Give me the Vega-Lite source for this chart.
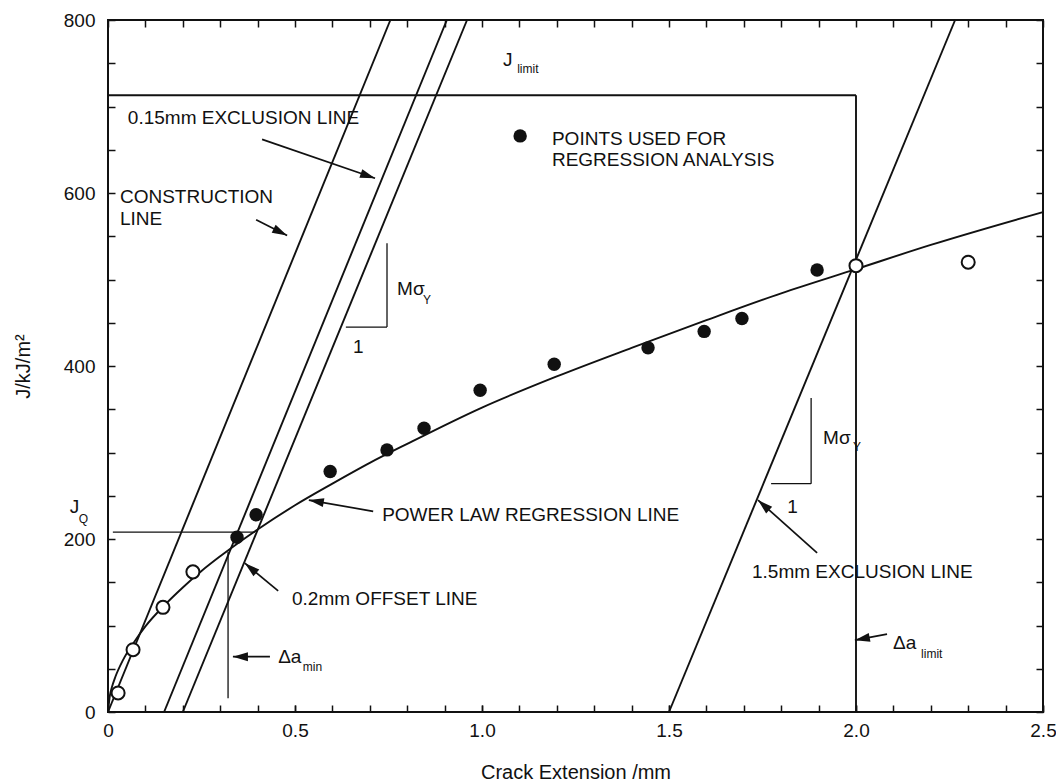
{
  "$schema": "https://vega.github.io/schema/vega-lite/v6.json",
  "width": 935,
  "height": 692,
  "autosize": "none",
  "padding": {"left": 108, "top": 20, "right": 13, "bottom": 71},
  "background": "white",
  "config": {
    "view": {"stroke": "#111", "strokeWidth": 2},
    "axis": {
      "domain": false, "grid": false, "tickColor": "#111", "tickWidth": 1.5, "tickSize": -7,
      "labelFont": "Liberation Sans", "labelFontSize": 19, "labelColor": "#111",
      "titleFont": "Liberation Sans", "titleFontSize": 20, "titleFontWeight": "normal", "titleColor": "#111",
      "labelOverlap": false, "labelFlush": false, "labelBound": false
    },
    "text": {"font": "Liberation Sans", "color": "#111"}
  },
  "datasets": {
    "curve": [
      {"x": 0, "y": 0}, {"x": 0.005, "y": 19}, {"x": 0.01, "y": 28}, {"x": 0.02, "y": 41},
      {"x": 0.04, "y": 60}, {"x": 0.07, "y": 81}, {"x": 0.1, "y": 99}, {"x": 0.15, "y": 123},
      {"x": 0.2, "y": 144}, {"x": 0.25, "y": 163}, {"x": 0.3, "y": 180}, {"x": 0.35, "y": 196},
      {"x": 0.4, "y": 211}, {"x": 0.5, "y": 239}, {"x": 0.6, "y": 264}, {"x": 0.7, "y": 288},
      {"x": 0.8, "y": 310}, {"x": 1.0, "y": 352}, {"x": 1.2, "y": 388}, {"x": 1.4, "y": 421},
      {"x": 1.6, "y": 453}, {"x": 1.8, "y": 484}, {"x": 2.0, "y": 512}, {"x": 2.2, "y": 540},
      {"x": 2.5, "y": 578}
    ],
    "open": [
      {"x": 0.027, "y": 22}, {"x": 0.067, "y": 72}, {"x": 0.147, "y": 121}, {"x": 0.227, "y": 162},
      {"x": 2.0, "y": 516}, {"x": 2.3, "y": 520}
    ],
    "filled": [
      {"x": 0.345, "y": 202}, {"x": 0.396, "y": 228}, {"x": 0.594, "y": 278}, {"x": 0.746, "y": 303},
      {"x": 0.845, "y": 328}, {"x": 0.995, "y": 372}, {"x": 1.193, "y": 402}, {"x": 1.444, "y": 421},
      {"x": 1.594, "y": 440}, {"x": 1.695, "y": 455}, {"x": 1.896, "y": 511}
    ],
    "legenddot": [{"x": 1.102, "y": 666}],
    "thick": [
      {"x": 0, "y": 0, "x2": 0.755, "y2": 800},
      {"x": 0.15, "y": 0, "x2": 0.906, "y2": 800},
      {"x": 0.2, "y": 0, "x2": 0.96, "y2": 800},
      {"x": 1.5, "y": 0, "x2": 2.265, "y2": 800},
      {"x": 0, "y": 713, "x2": 2.0, "y2": 713},
      {"x": 2.0, "y": 0, "x2": 2.0, "y2": 713}
    ],
    "thin": [
      {"x": 0.013, "y": 208, "x2": 0.393, "y2": 208},
      {"x": 0.321, "y": 16, "x2": 0.321, "y2": 185},
      {"x": 0.746, "y": 445, "x2": 0.746, "y2": 542},
      {"x": 0.636, "y": 445, "x2": 0.746, "y2": 445},
      {"x": 1.88, "y": 264, "x2": 1.88, "y2": 363},
      {"x": 1.773, "y": 264, "x2": 1.88, "y2": 264}
    ],
    "arrows": [
      {"n": "a1", "x": 0.714, "y": 617, "x2": 0.412, "y2": 662},
      {"n": "a2", "x": 0.479, "y": 551, "x2": 0.396, "y2": 569},
      {"n": "a3", "x": 0.537, "y": 245, "x2": 0.709, "y2": 232},
      {"n": "a4", "x": 0.366, "y": 172, "x2": 0.455, "y2": 140},
      {"n": "a5", "x": 0.334, "y": 64, "x2": 0.433, "y2": 64},
      {"n": "a6", "x": 1.738, "y": 245, "x2": 1.896, "y2": 184},
      {"n": "a7", "x": 1.997, "y": 83, "x2": 2.083, "y2": 90}
    ],
    "labels": [
      {"t": "J", "x": 1.056, "y": 754},
      {"t": "0.15mm EXCLUSION LINE", "x": 0.053, "y": 687},
      {"t": "CONSTRUCTION", "x": 0.032, "y": 595},
      {"t": "LINE", "x": 0.032, "y": 570},
      {"t": "POINTS USED FOR", "x": 1.187, "y": 663},
      {"t": "REGRESSION ANALYSIS", "x": 1.187, "y": 638},
      {"t": "Mσ", "x": 0.773, "y": 489},
      {"t": "1", "x": 0.655, "y": 422},
      {"t": "J", "x": -0.102, "y": 237},
      {"t": "POWER LAW REGRESSION LINE", "x": 0.733, "y": 228},
      {"t": "0.2mm OFFSET LINE", "x": 0.492, "y": 131},
      {"t": "Δa", "x": 0.455, "y": 64},
      {"t": "1.5mm EXCLUSION LINE", "x": 1.722, "y": 162},
      {"t": "Δa", "x": 2.099, "y": 80},
      {"t": "Mσ", "x": 1.912, "y": 317},
      {"t": "1", "x": 1.816, "y": 237}
    ],
    "subs": [
      {"t": "limit", "x": 1.094, "y": 743},
      {"t": "Y", "x": 0.842, "y": 476},
      {"t": "Q", "x": -0.078, "y": 223},
      {"t": "min", "x": 0.521, "y": 52},
      {"t": "limit", "x": 2.174, "y": 67},
      {"t": "Y", "x": 1.992, "y": 306}
    ]
  },
  "layer": [
    {
      "layer": [
        {
          "data": {"name": "thick"},
          "mark": {"type": "rule", "stroke": "#111", "strokeWidth": 1.9},
          "encoding": {
            "x": {"field": "x", "type": "quantitative",
              "scale": {"domain": [0, 2.5], "nice": false, "zero": false},
              "axis": {
                "values": [0, 0.5, 1, 1.5, 2, 2.5],
                "labelExpr": "datum.value == 0 ? '0' : format(datum.value, '.1f')",
                "labelOverlap": false, "labelFlush": false, "labelBound": false,
                "labelPadding": 16, "title": "Crack Extension /mm", "titlePadding": 22
              }},
            "y": {"field": "y", "type": "quantitative",
              "scale": {"domain": [0, 800], "nice": false},
              "axis": {
                "values": [0,50,100,150,200,250,300,350,400,450,500,550,600,650,700,750,800],
                "labelExpr": "datum.value % 200 == 0 ? '' + datum.value : ''",
                "labelOverlap": false, "labelFlush": false, "labelBound": false,
                "labelPadding": 20, "title": "J/kJ/m²", "titlePadding": 30
              }},
            "x2": {"field": "x2"},
            "y2": {"field": "y2"}
          }
        },
        {
          "data": {"name": "thin"},
          "mark": {"type": "rule", "stroke": "#111", "strokeWidth": 1.3},
          "encoding": {
            "x": {"field": "x", "type": "quantitative"},
            "y": {"field": "y", "type": "quantitative"},
            "x2": {"field": "x2"},
            "y2": {"field": "y2"}
          }
        },
        {
          "data": {"name": "curve"},
          "mark": {"type": "line", "stroke": "#111", "strokeWidth": 1.9, "interpolate": "monotone"},
          "encoding": {
            "x": {"field": "x", "type": "quantitative"},
            "y": {"field": "y", "type": "quantitative"}
          }
        },
        {
          "data": {"name": "arrows"},
          "mark": {"type": "rule", "stroke": "#111", "strokeWidth": 1.7},
          "encoding": {
            "x": {"field": "x", "type": "quantitative"},
            "y": {"field": "y", "type": "quantitative"},
            "x2": {"field": "x2"},
            "y2": {"field": "y2"}
          }
        },
        {"data": {"name": "arrows"}, "transform": [{"filter": "datum.n == 'a1'"}],
          "mark": {"type": "point", "shape": "M0,0 L0.45,1.5 L-0.45,1.5 Z", "size": 400, "filled": true, "color": "#111", "opacity": 1, "angle": 109},
          "encoding": {"x": {"field": "x", "type": "quantitative"}, "y": {"field": "y", "type": "quantitative"}}},
        {"data": {"name": "arrows"}, "transform": [{"filter": "datum.n == 'a2'"}],
          "mark": {"type": "point", "shape": "M0,0 L0.45,1.5 L-0.45,1.5 Z", "size": 400, "filled": true, "color": "#111", "opacity": 1, "angle": 116},
          "encoding": {"x": {"field": "x", "type": "quantitative"}, "y": {"field": "y", "type": "quantitative"}}},
        {"data": {"name": "arrows"}, "transform": [{"filter": "datum.n == 'a3'"}],
          "mark": {"type": "point", "shape": "M0,0 L0.45,1.5 L-0.45,1.5 Z", "size": 400, "filled": true, "color": "#111", "opacity": 1, "angle": 280},
          "encoding": {"x": {"field": "x", "type": "quantitative"}, "y": {"field": "y", "type": "quantitative"}}},
        {"data": {"name": "arrows"}, "transform": [{"filter": "datum.n == 'a4'"}],
          "mark": {"type": "point", "shape": "M0,0 L0.45,1.5 L-0.45,1.5 Z", "size": 400, "filled": true, "color": "#111", "opacity": 1, "angle": 310},
          "encoding": {"x": {"field": "x", "type": "quantitative"}, "y": {"field": "y", "type": "quantitative"}}},
        {"data": {"name": "arrows"}, "transform": [{"filter": "datum.n == 'a5'"}],
          "mark": {"type": "point", "shape": "M0,0 L0.45,1.5 L-0.45,1.5 Z", "size": 400, "filled": true, "color": "#111", "opacity": 1, "angle": 270},
          "encoding": {"x": {"field": "x", "type": "quantitative"}, "y": {"field": "y", "type": "quantitative"}}},
        {"data": {"name": "arrows"}, "transform": [{"filter": "datum.n == 'a6'"}],
          "mark": {"type": "point", "shape": "M0,0 L0.45,1.5 L-0.45,1.5 Z", "size": 400, "filled": true, "color": "#111", "opacity": 1, "angle": 312},
          "encoding": {"x": {"field": "x", "type": "quantitative"}, "y": {"field": "y", "type": "quantitative"}}},
        {"data": {"name": "arrows"}, "transform": [{"filter": "datum.n == 'a7'"}],
          "mark": {"type": "point", "shape": "M0,0 L0.45,1.5 L-0.45,1.5 Z", "size": 400, "filled": true, "color": "#111", "opacity": 1, "angle": 259},
          "encoding": {"x": {"field": "x", "type": "quantitative"}, "y": {"field": "y", "type": "quantitative"}}},
        {
          "data": {"name": "open"},
          "mark": {"type": "point", "shape": "circle", "size": 170, "filled": true, "fill": "white", "stroke": "#111", "strokeWidth": 2, "opacity": 1},
          "encoding": {
            "x": {"field": "x", "type": "quantitative"},
            "y": {"field": "y", "type": "quantitative"}
          }
        },
        {
          "data": {"name": "filled"},
          "mark": {"type": "point", "shape": "circle", "size": 180, "filled": true, "color": "#111", "opacity": 1},
          "encoding": {
            "x": {"field": "x", "type": "quantitative"},
            "y": {"field": "y", "type": "quantitative"}
          }
        },
        {
          "data": {"name": "legenddot"},
          "mark": {"type": "point", "shape": "circle", "size": 180, "filled": true, "color": "#111", "opacity": 1},
          "encoding": {
            "x": {"field": "x", "type": "quantitative"},
            "y": {"field": "y", "type": "quantitative"}
          }
        },
        {
          "data": {"name": "labels"},
          "mark": {"type": "text", "align": "left", "baseline": "middle", "fontSize": 19},
          "encoding": {
            "x": {"field": "x", "type": "quantitative"},
            "y": {"field": "y", "type": "quantitative"},
            "text": {"field": "t"}
          }
        },
        {
          "data": {"name": "subs"},
          "mark": {"type": "text", "align": "left", "baseline": "middle", "fontSize": 12},
          "encoding": {
            "x": {"field": "x", "type": "quantitative"},
            "y": {"field": "y", "type": "quantitative"},
            "text": {"field": "t"}
          }
        }
      ]
    },
    {
      "data": {"name": "legenddot"},
      "mark": {"type": "point", "opacity": 0},
      "encoding": {
        "x": {"field": "x", "type": "quantitative",
          "axis": {"orient": "top", "labels": false, "title": null,
            "values": [0,0.1,0.2,0.3,0.4,0.5,0.6,0.7,0.8,0.9,1,1.1,1.2,1.3,1.4,1.5,1.6,1.7,1.8,1.9,2,2.1,2.2,2.3,2.4,2.5]}},
        "y": {"field": "y", "type": "quantitative",
          "axis": {"orient": "right", "labels": false, "title": null,
            "values": [0,50,100,150,200,250,300,350,400,450,500,550,600,650,700,750,800]}}
      }
    },
    {
      "data": {"name": "legenddot"},
      "mark": {"type": "point", "opacity": 0},
      "encoding": {
        "x": {"field": "x", "type": "quantitative",
          "axis": {"orient": "bottom", "labels": false, "title": null,
            "values": [0,0.1,0.2,0.3,0.4,0.5,0.6,0.7,0.8,0.9,1,1.1,1.2,1.3,1.4,1.5,1.6,1.7,1.8,1.9,2,2.1,2.2,2.3,2.4,2.5]}},
        "y": {"field": "y", "type": "quantitative", "axis": null}
      }
    }
  ],
  "resolve": {"axis": {"x": "independent", "y": "independent"}}
}
